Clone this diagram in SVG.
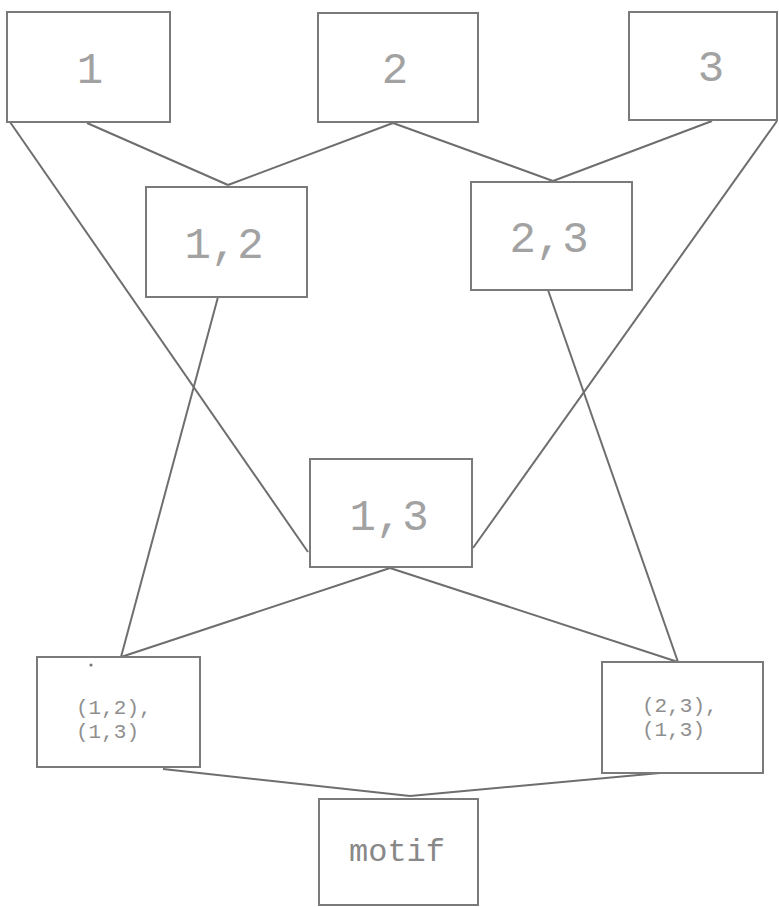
<svg xmlns="http://www.w3.org/2000/svg" width="779" height="907" viewBox="0 0 779 907">
<style>
.box{fill:#fff;stroke:#7a7a7a;stroke-width:2}
.big{font-family:"Liberation Mono","DejaVu Sans Mono",monospace;font-size:44px;fill:#a2a2a2;text-anchor:middle}
.small{font-family:"Liberation Mono","DejaVu Sans Mono",monospace;font-size:21px;fill:#8f8f8f}
.mid{font-family:"Liberation Mono","DejaVu Sans Mono",monospace;font-size:32px;fill:#888;text-anchor:middle}
#connectors line{stroke:#6e6e6e;stroke-width:2;fill:none}
</style>
<rect width="779" height="907" fill="#fff"/>
<g id="connectors">
<line x1="87" y1="123" x2="228" y2="185"/>
<line x1="393" y1="123" x2="228" y2="185"/>
<line x1="393" y1="123" x2="553" y2="181"/>
<line x1="712" y1="121" x2="553" y2="181"/>
<line x1="10" y1="122" x2="308" y2="552"/>
<line x1="777" y1="121" x2="473" y2="548"/>
<line x1="218" y1="297" x2="121" y2="657"/>
<line x1="390" y1="568" x2="121" y2="657"/>
<line x1="548" y1="290" x2="678" y2="662"/>
<line x1="390" y1="568" x2="678" y2="662"/>
<line x1="163" y1="769" x2="410" y2="796"/>
<line x1="660" y1="773" x2="410" y2="796"/>
</g>
<g id="n1"><rect class="box" x="7" y="12" width="163" height="110"/><text class="big" x="90" y="83">1</text></g>
<g id="n2"><rect class="box" x="318" y="13" width="160" height="109"/><text class="big" x="395" y="83">2</text></g>
<g id="n3"><rect class="box" x="629" y="12" width="148" height="108"/><text class="big" x="711" y="81">3</text></g>
<g id="n12"><rect class="box" x="146" y="187" width="161" height="110"/><text class="big" x="224" y="258">1,2</text></g>
<g id="n23"><rect class="box" x="471" y="182" width="161" height="108"/><text class="big" x="549" y="252">2,3</text></g>
<g id="n13"><rect class="box" x="310" y="459" width="162" height="108"/><text class="big" x="389" y="530">1,3</text></g>
<g id="nL"><rect class="box" x="37" y="657" width="163" height="110"/><circle cx="91" cy="665" r="1.6" fill="#777"/><text class="small" x="76" y="714">(1,2),</text><text class="small" x="76" y="738">(1,3)</text></g>
<g id="nR"><rect class="box" x="602" y="662" width="161" height="111"/><text class="small" x="642" y="712">(2,3),</text><text class="small" x="642" y="736">(1,3)</text></g>
<g id="motif"><rect class="box" x="319" y="799" width="159" height="106"/><text class="mid" x="397" y="861">motif</text></g>
</svg>
